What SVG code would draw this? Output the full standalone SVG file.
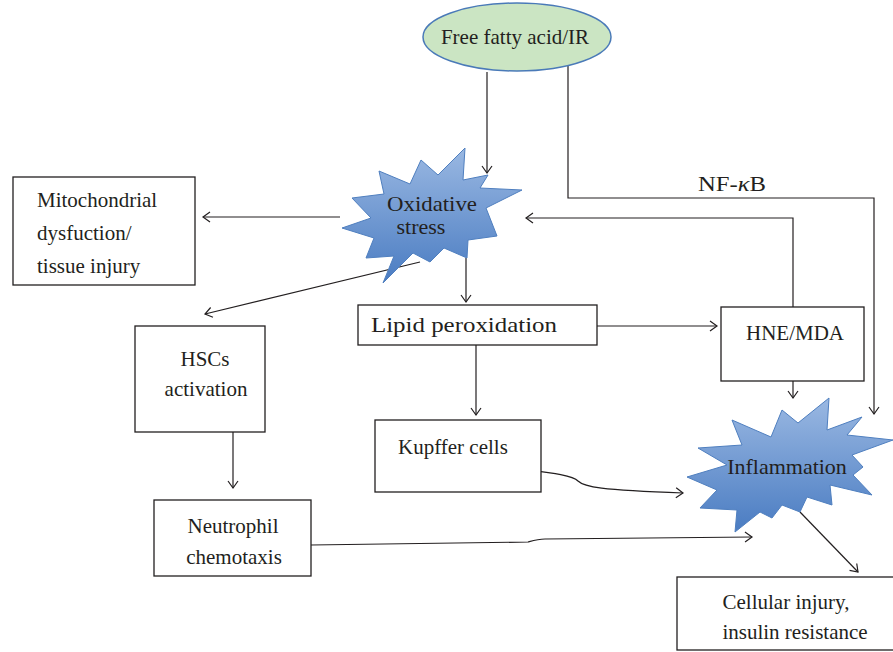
<svg xmlns="http://www.w3.org/2000/svg" width="893" height="652" viewBox="0 0 893 652">
<defs>
<marker id="arr" markerWidth="12" markerHeight="12" refX="9" refY="6" orient="auto" markerUnits="userSpaceOnUse">
<path d="M2,1 L9,6 L2,11" fill="none" stroke="#231f20" stroke-width="1.2"/>
</marker>
<linearGradient id="blue" x1="0" y1="0" x2="0" y2="1">
<stop offset="0" stop-color="#9ab8e2"/>
<stop offset="1" stop-color="#4a7cc2"/>
</linearGradient>
</defs>
<style>
.box{fill:#fff;stroke:#231f20;stroke-width:1.3}
.t{font-family:'Liberation Serif','DejaVu Serif',serif;font-size:21px;fill:#231f20}
.c{text-anchor:middle}
.star{fill:url(#blue);stroke:#4f7fbf;stroke-width:1}
.ln{fill:none;stroke:#231f20;stroke-width:1.2}
</style>
<rect width="893" height="652" fill="#fff"/>

<g id="connectors">
<path class="ln" d="M487,72 V173" marker-end="url(#arr)"/>
<path class="ln" d="M568,64 V198 H874 V414" marker-end="url(#arr)"/>
<path class="ln" d="M340,217 H203" marker-end="url(#arr)"/>
<path class="ln" d="M420,262 L205,314" marker-end="url(#arr)"/>
<path class="ln" d="M466,258 V302" marker-end="url(#arr)"/>
<path class="ln" d="M597,326 H717" marker-end="url(#arr)"/>
<path class="ln" d="M793,307 V218 H526" marker-end="url(#arr)"/>
<path class="ln" d="M793,348 V398" marker-end="url(#arr)"/>
<path class="ln" d="M476,345 V415" marker-end="url(#arr)"/>
<path class="ln" d="M233,418 V488" marker-end="url(#arr)"/>
<path class="ln" d="M476,462 C520,471 570,472 578,481 C584,487 600,490 683,493" marker-end="url(#arr)"/>
<path class="ln" d="M311,545 L528,542 C535,540 538,539 545,539 L752,537" marker-end="url(#arr)"/>
<path class="ln" d="M800,512 L858,572" marker-end="url(#arr)"/>
<text class="t" x="698" y="191" font-family="Liberation Serif, serif" textLength="68" lengthAdjust="spacingAndGlyphs">NF-<tspan font-style="italic">κ</tspan>B</text>
</g>

<g id="ffa">
<ellipse cx="517" cy="37" rx="94" ry="34" fill="#cbe5c3" stroke="#4a7ab8" stroke-width="1.5"/>
<text class="t c" x="515" y="44" font-family="Liberation Serif, serif">Free fatty acid/IR</text>
</g>

<g id="oxidative">
<polygon class="star" points="379,171 410,184 421,160 438,175 465,148 463,180 488,175 480,188 522,190 486,208 497,236 468,240 467,258 444,248 430,262 413,253 383,283 394,256 366,258 374,238 342,228 371,218 352,198 384,194"/>
<text class="t c" x="432" y="211" font-family="Liberation Serif, serif" style="font-size:22px" textLength="90" lengthAdjust="spacingAndGlyphs">Oxidative</text>
<text class="t c" x="421" y="234" font-family="Liberation Serif, serif" style="font-size:22px">stress</text>
</g>

<g id="mito">
<rect class="box" x="13" y="177" width="182" height="108"/>
<text class="t" x="37" y="207" font-family="Liberation Serif, serif">Mitochondrial</text>
<text class="t" x="37" y="240" font-family="Liberation Serif, serif">dysfuction/</text>
<text class="t" x="37" y="273" font-family="Liberation Serif, serif">tissue injury</text>
</g>

<g id="hsc">
<rect class="box" x="135" y="326" width="130" height="106"/>
<text class="t c" x="205" y="366" font-family="Liberation Serif, serif">HSCs</text>
<text class="t c" x="206" y="396" font-family="Liberation Serif, serif">activation</text>
</g>

<g id="neutrophil">
<rect class="box" x="154" y="500" width="157" height="76"/>
<text class="t c" x="233" y="533" font-family="Liberation Serif, serif">Neutrophil</text>
<text class="t c" x="234" y="564" font-family="Liberation Serif, serif">chemotaxis</text>
</g>

<g id="lipid">
<rect class="box" x="358" y="305" width="239" height="40"/>
<text class="t" x="371" y="332" font-family="Liberation Serif, serif" textLength="186" lengthAdjust="spacingAndGlyphs">Lipid peroxidation</text>
</g>

<g id="kupffer">
<rect class="box" x="375" y="420" width="166" height="72"/>
<text class="t" x="398" y="454" font-family="Liberation Serif, serif">Kupffer cells</text>
</g>

<g id="hne">
<rect class="box" x="721" y="307" width="143" height="74"/>
<text class="t c" x="795" y="340" font-family="Liberation Serif, serif">HNE/MDA</text>
</g>

<g id="inflammation">
<polygon class="star" points="829,398 798,423 782,410 771,437 732,420 742,445 698,448 727,465 687,477 717,490 700,508 737,510 735,532 760,512 772,518 782,505 800,512 807,497 832,505 830,485 872,495 853,475 863,467 852,455 893,440 847,435 862,417 827,430"/>
<text class="t c" x="787" y="474" font-family="Liberation Serif, serif" style="font-size:22px">Inflammation</text>
</g>

<g id="cellular">
<rect class="box" x="677" y="577" width="222" height="73"/>
<text class="t c" x="786" y="609" font-family="Liberation Serif, serif">Cellular injury,</text>
<text class="t c" x="795" y="639" font-family="Liberation Serif, serif">insulin resistance</text>
</g>
</svg>
